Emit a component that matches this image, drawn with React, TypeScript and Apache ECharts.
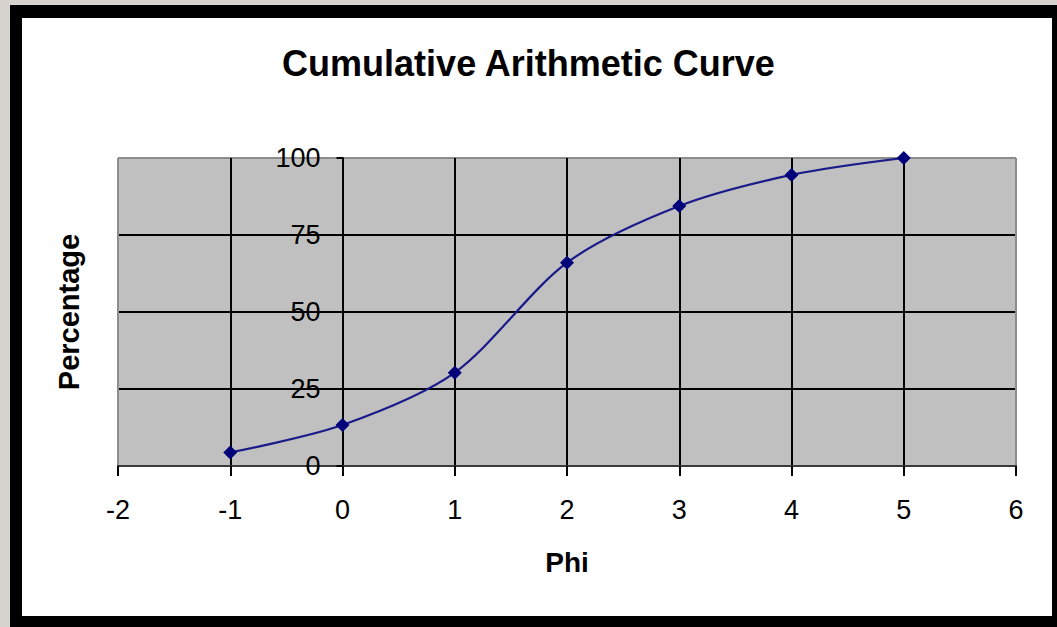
import React, { useEffect, useRef } from "react";
import * as echarts from "echarts";

const phi: number[] = [-1, 0, 1, 2, 3, 4, 5];
const percentage: number[] = [4.4, 13.3, 30.3, 66.0, 84.4, 94.5, 100];
const xTicks: number[] = [-2, -1, 0, 1, 2, 3, 4, 5, 6];
const yTicks: number[] = [0, 25, 50, 75, 100];

const GRID_LEFT = 118;
const GRID_RIGHT = 41;
const WIDTH = 1057;

export default function App() {
  const ref = useRef<HTMLDivElement>(null);
  useEffect(() => {
    if (!ref.current) return;
    const chart = echarts.init(ref.current, null, { renderer: "svg" });
    const font = "'Liberation Sans', Arial, sans-serif";
    const xMin = xTicks[0];
    const xMax = xTicks[xTicks.length - 1];
    const plotW = WIDTH - GRID_LEFT - GRID_RIGHT;
    // shift the y axis so it crosses the x axis at 0
    const yOffset = -plotW * (0 - xMin) / (xMax - xMin);
    chart.setOption({
      animation: false,
      backgroundColor: "#d6d2cd",
      graphic: [
        { type: "rect", shape: { x: 10, y: 5, width: 1047, height: 622 }, style: { fill: "#000" }, z: -10 },
        { type: "rect", shape: { x: 22, y: 18, width: 1030, height: 598 }, style: { fill: "#fff" }, z: -9 },
      ],
      title: {
        text: "Cumulative Arithmetic Curve",
        left: "center",
        top: 40,
        textStyle: { fontFamily: font, fontSize: 36, fontWeight: "bold", color: "#000" },
      },
      grid: {
        left: GRID_LEFT,
        right: GRID_RIGHT,
        top: 158,
        bottom: 161,
        containLabel: false,
        outerBoundsMode: "none",
        show: true,
        backgroundColor: "#c0c0c0",
        borderColor: "#8c8c8c",
        borderWidth: 1,
      },
      xAxis: {
        type: "value",
        min: xMin,
        max: xMax,
        interval: 1,
        name: "Phi",
        nameLocation: "middle",
        nameGap: 82,
        nameTextStyle: { fontFamily: font, fontSize: 28, fontWeight: "bold", color: "#000" },
        axisLine: { onZero: false, lineStyle: { color: "#3a3a3a", width: 2 } },
        axisTick: { show: true, length: 10, lineStyle: { color: "#000", width: 2 } },
        axisLabel: { fontFamily: font, fontSize: 27, color: "#000", margin: 30 },
        splitLine: {
          show: true,
          lineStyle: {
            color: ["#8c8c8c", "#000", "#000", "#000", "#000", "#000", "#000", "#000", "#8c8c8c"],
            width: 2,
          },
        },
      },
      yAxis: {
        type: "value",
        min: yTicks[0],
        max: yTicks[yTicks.length - 1],
        interval: 25,
        offset: yOffset,
        name: "Percentage",
        nameLocation: "middle",
        nameGap: 259,
        nameTextStyle: { fontFamily: font, fontSize: 29, fontWeight: "bold", color: "#000" },
        axisLine: { show: true, onZero: false, lineStyle: { color: "#000", width: 2 } },
        axisTick: { show: true, length: 6, lineStyle: { color: "#000", width: 2 } },
        axisLabel: { fontFamily: font, fontSize: 27, color: "#000", margin: 22 },
        splitLine: {
          show: true,
          lineStyle: { color: ["#000", "#000", "#000", "#000", "#8c8c8c"], width: 2 },
        },
      },
      series: [
        {
          type: "line",
          data: phi.map((x, i) => [x, percentage[i]]),
          smooth: 0.3,
          symbol: "diamond",
          symbolSize: 14,
          lineStyle: { color: "#1a1a8a", width: 2.2 },
          itemStyle: { color: "#00007a" },
          z: 5,
        },
      ],
    });
    return () => chart.dispose();
  }, []);
  return (
    <div
      ref={ref}
      style={{ position: "absolute", left: 0, top: 0, width: 1057, height: 627 }}
    />
  );
}
